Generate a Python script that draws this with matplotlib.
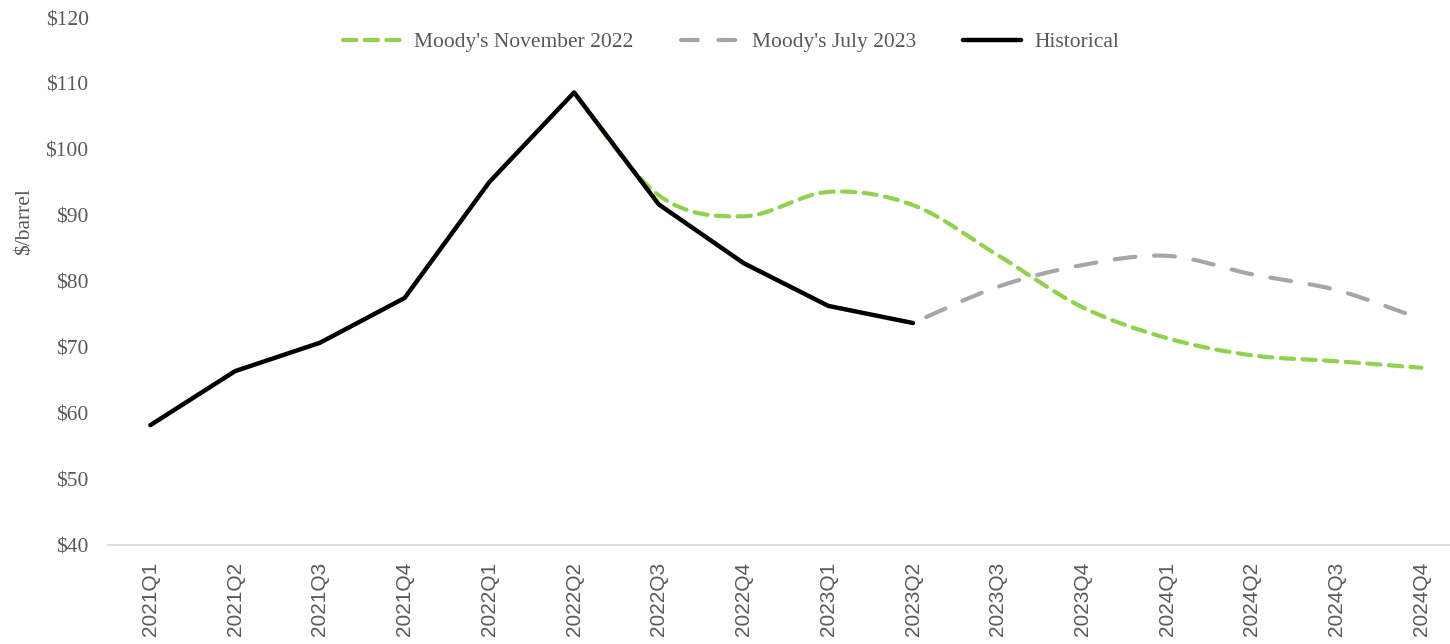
import matplotlib
matplotlib.use("Agg")
import matplotlib.pyplot as plt
from matplotlib.path import Path
from matplotlib.patches import PathPatch
from matplotlib.lines import Line2D
import numpy as np

quarters = ["2021Q1", "2021Q2", "2021Q3", "2021Q4", "2022Q1", "2022Q2", "2022Q3", "2022Q4",
            "2023Q1", "2023Q2", "2023Q3", "2023Q4", "2024Q1", "2024Q2", "2024Q3", "2024Q4"]
historical = [58.2, 66.4, 70.7, 77.5, 95.1, 108.7, 91.7, 82.8, 76.3, 73.7]
nov2022_start = 5
nov2022 = [108.7, 93.1, 89.9, 93.6, 91.6, 84.0, 76.1, 71.4, 68.8, 67.9, 66.9]
jul2023_start = 9
jul2023 = [73.7, 79.2, 82.5, 83.9, 81.1, 78.7, 74.3]

SERIF = "Liberation Serif"
SANS = "Liberation Sans"
TXT = "#595959"

fig = plt.figure(figsize=(14.5, 6.44), dpi=100)
ax = fig.add_axes([0.0745, 0.1537, 0.935, 0.8183])


def smooth_path(xs, ys):
    xs = np.asarray(xs, float)
    ys = np.asarray(ys, float)
    n = len(xs)
    verts = [(xs[0], ys[0])]
    codes = [Path.MOVETO]
    for i in range(n - 1):
        p0 = np.array([xs[max(i - 1, 0)], ys[max(i - 1, 0)]])
        p1 = np.array([xs[i], ys[i]])
        p2 = np.array([xs[i + 1], ys[i + 1]])
        p3 = np.array([xs[min(i + 2, n - 1)], ys[min(i + 2, n - 1)]])
        c1 = p1 + (p2 - p0) / 6.0
        c2 = p2 - (p3 - p1) / 6.0
        verts += [tuple(c1), tuple(c2), tuple(p2)]
        codes += [Path.CURVE4] * 3
    return Path(verts, codes)


def draw(xs, ys, color, ls, lw, z, capstyle="butt"):
    patch = PathPatch(smooth_path(xs, ys), facecolor="none", edgecolor=color,
                      linewidth=lw, linestyle=ls, zorder=z, capstyle=capstyle)
    ax.add_patch(patch)


green = "#92d050"
gray = "#a6a6a6"

x_nov = list(range(nov2022_start, nov2022_start + len(nov2022)))
x_jul = list(range(jul2023_start, jul2023_start + len(jul2023)))
x_hist = list(range(len(historical)))

draw(x_nov, nov2022, green, (0, (3.2, 2.0)), 3.0, 2, "round")
draw(x_jul, jul2023, gray, (6, (5.0, 4.5)), 3.0, 2, "round")
ax.plot(x_hist, historical, color="black", lw=3.2, solid_capstyle="round",
        solid_joinstyle="round", zorder=3)

ax.set_xlim(-0.5, len(quarters) - 0.5)
ax.set_ylim(40, 120)
ax.set_xticks(range(len(quarters)))
ax.set_xticklabels(quarters, rotation=90, fontfamily=SANS, fontsize=15, color=TXT)
yt = list(range(40, 121, 10))
ax.set_yticks(yt)
ax.set_yticklabels([f"${v}" for v in yt], fontfamily=SERIF, fontsize=15.5, color=TXT)
ax.tick_params(axis="both", length=0)
ax.tick_params(axis="y", pad=14)
ax.tick_params(axis="x", pad=12)
for s in ["top", "right", "left"]:
    ax.spines[s].set_visible(False)
ax.spines["bottom"].set_color("#d9d9d9")
ax.spines["bottom"].set_linewidth(1.2)

fig.text(25 / 1450, 1 - 222 / 644, "$/barrel", rotation=90, ha="center", va="center",
         fontfamily=SERIF, fontsize=15.5, color=TXT)

handles = [
    Line2D([], [], color=green, lw=3.0, linestyle=(0, (3.2, 2.0)), solid_capstyle="round",
           dash_capstyle="round"),
    Line2D([], [], color=gray, lw=3.0, linestyle=(0, (4.0, 5.0)), dash_capstyle="round"),
    Line2D([], [], color="black", lw=3.2, solid_capstyle="round"),
]
labels = ["Moody's November 2022", "Moody's July 2023", "Historical"]
fig.legend(handles, labels, loc="center", bbox_to_anchor=(731 / 1450, 1 - 42 / 644), ncol=3,
           frameon=False, prop={"family": SERIF, "size": 15.5}, labelcolor=TXT,
           handlelength=2.7, handletextpad=0.6, columnspacing=2.2)

fig.savefig("out.png", dpi=100)
